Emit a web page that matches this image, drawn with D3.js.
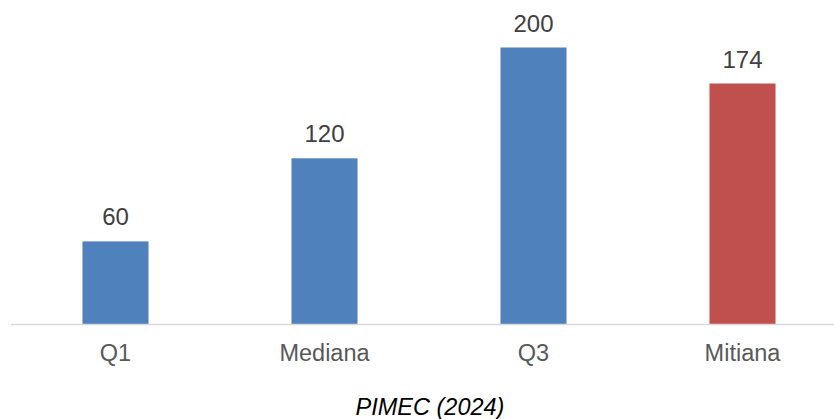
<!DOCTYPE html>
<html>
<head>
<meta charset="utf-8">
<script src="https://cdn.jsdelivr.net/npm/d3@7"></script>
<style>
  html, body { margin: 0; padding: 0; background: #fff; }
  svg { display: block; }
  text { font-family: "Liberation Sans", Arial, sans-serif; }
</style>
</head>
<body>
<svg id="chart" width="834" height="419"></svg>
<script>
const categories = ["Q1", "Mediana", "Q3", "Mitiana"];
const values = [60, 120, 200, 174];
const barColors = ["#4f81bd", "#4f81bd", "#4f81bd", "#c0504d"];
const title = "PIMEC (2024)";

const svg = d3.select("#chart");
const baseY = 324.5;

const x = d3.scaleBand().domain(categories).range([11, 847])
  .paddingInner(0.684).paddingOuter(0.342);
const y = d3.scaleLinear().domain([0, 200]).range([baseY, 47.5]);

svg.append("g").selectAll("rect").data(categories).join("rect")
  .attr("x", d => x(d))
  .attr("width", x.bandwidth())
  .attr("y", (d, i) => y(values[i]))
  .attr("height", (d, i) => baseY - y(values[i]))
  .attr("fill", (d, i) => barColors[i]);

svg.append("line")
  .attr("x1", 11).attr("x2", 834)
  .attr("y1", baseY).attr("y2", baseY)
  .attr("stroke", "#d9d9d9").attr("stroke-width", 1.5);

svg.append("g").selectAll("text").data(categories).join("text")
  .attr("x", d => x(d) + x.bandwidth() / 2)
  .attr("y", (d, i) => y(values[i]) - 16)
  .attr("text-anchor", "middle")
  .attr("font-size", 24)
  .attr("fill", "#404040")
  .text((d, i) => values[i]);

svg.append("g").selectAll("text").data(categories).join("text")
  .attr("x", d => x(d) + x.bandwidth() / 2)
  .attr("y", 361)
  .attr("text-anchor", "middle")
  .attr("font-size", 23.5)
  .attr("fill", "#595959")
  .text(d => d);

svg.append("text")
  .attr("x", 430).attr("y", 415)
  .attr("text-anchor", "middle")
  .attr("font-size", 23.5)
  .attr("font-style", "italic")
  .attr("fill", "#000")
  .text(title);
</script>
</body>
</html>
